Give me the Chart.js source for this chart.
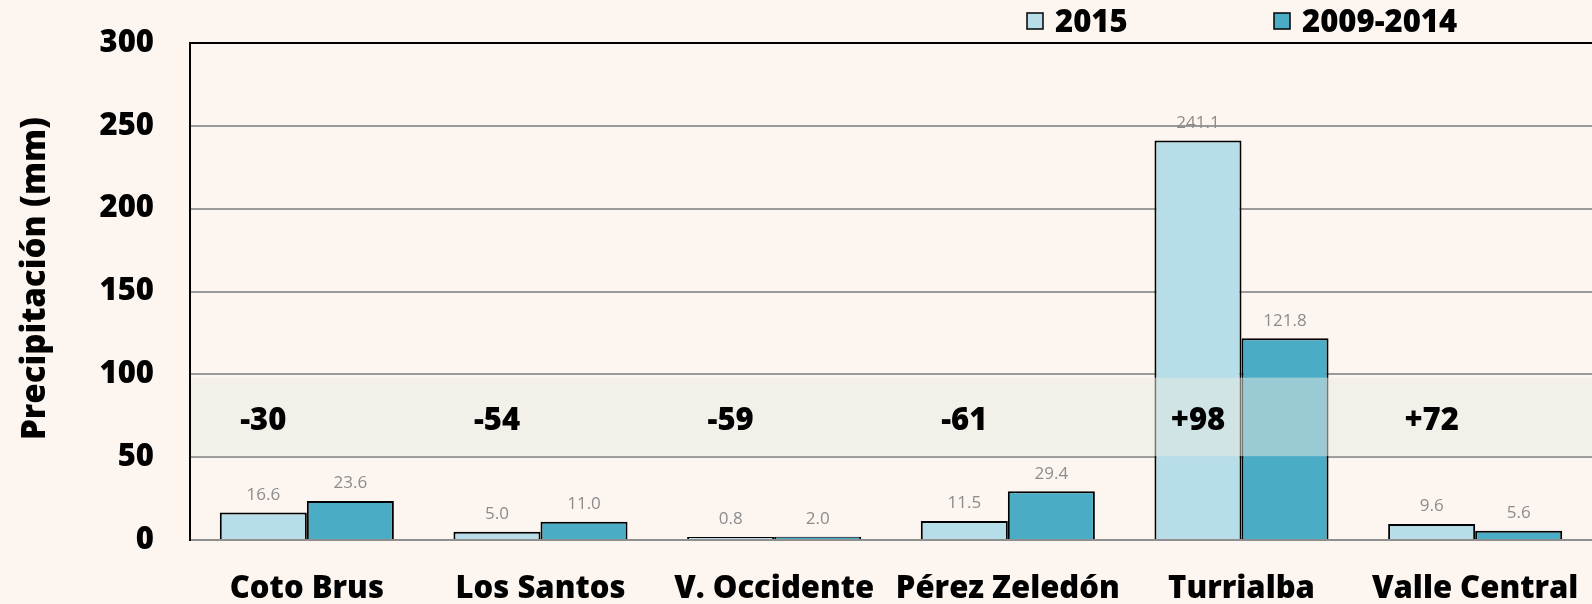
<!DOCTYPE html>
<html>
<head>
<meta charset="utf-8">
<script src="https://cdn.jsdelivr.net/npm/chart.js@4.4.0/dist/chart.umd.min.js"></script>
<style>
  html, body { margin: 0; padding: 0; background: #FDF5F0; }
  #wrap { width: 1592px; height: 604px; }
</style>
</head>
<body>
<div id="wrap"><canvas id="myChart" width="1592" height="604"></canvas></div>
<script>
let regiones = ['Coto Brus', 'Los Santos', 'V. Occidente', 'Pérez Zeledón', 'Turrialba', 'Valle Central'];
let lluvia2015 = [16.6, 5.0, 0.8, 11.5, 241.1, 9.6];
let lluviaPromedio = [23.6, 11.0, 2.0, 29.4, 121.8, 5.6];
let diferencias = ['-30', '-54', '-59', '-61', '+98', '+72'];
let yTicks = [0, 50, 100, 150, 200, 250, 300];
let banda = [50, 98];
let nivelDiferencias = 72;

const FONT = "'Open Sans', 'DejaVu Sans', sans-serif";

// franja con las diferencias (%) encima de las barras
const bandPlugin = {
    id: 'banda',
    afterDatasetsDraw(chart) {
        const { ctx, chartArea, scales } = chart;
        const y1 = scales.y.getPixelForValue(banda[1]);
        const y0 = scales.y.getPixelForValue(banda[0]);
        ctx.save();
        ctx.fillStyle = 'rgba(234, 234, 226, 0.5)';
        ctx.fillRect(chartArea.left + 1, y1, chartArea.right - chartArea.left, y0 - y1 - 1);

        // etiquetas de valores
        ctx.font = '17px ' + FONT;
        ctx.fillStyle = '#8c8c8c';
        ctx.textAlign = 'center';
        ctx.textBaseline = 'bottom';
        chart.data.datasets.forEach((ds, i) => {
            chart.getDatasetMeta(i).data.forEach((bar, j) => {
                ctx.fillText(ds.data[j].toFixed(1), bar.x, bar.y - 9);
            });
        });

        ctx.font = '800 31px ' + FONT;
        ctx.fillStyle = '#000';
        ctx.textBaseline = 'middle';
        const meta = chart.getDatasetMeta(0);
        const yMid = scales.y.getPixelForValue(nivelDiferencias);
        diferencias.forEach((d, j) => {
            ctx.fillText(d, meta.data[j].x, yMid);
        });
        ctx.restore();
    }
};

const legendPlugin = {
    id: 'leyenda',
    afterDraw(chart) {
        const { ctx } = chart;
        const items = [
            { x: 1027, text: '2015', color: chart.data.datasets[0].backgroundColor },
            { x: 1274, text: '2009-2014', color: chart.data.datasets[1].backgroundColor }
        ];
        ctx.save();
        ctx.font = '800 31px ' + FONT;
        ctx.textBaseline = 'middle';
        ctx.textAlign = 'left';
        items.forEach(it => {
            ctx.fillStyle = it.color;
            ctx.fillRect(it.x, 13, 16, 16);
            ctx.strokeStyle = '#000';
            ctx.lineWidth = 1.5;
            ctx.strokeRect(it.x, 13, 16, 16);
            ctx.fillStyle = '#000';
            ctx.fillText(it.text, it.x + 28, 23);
        });
        ctx.restore();
    }
};

let ctx = document.getElementById('myChart');
let myChart = new Chart(ctx, {
    type: 'bar',
    data: {
        labels: regiones,
        datasets: [{
            label: '2015',
            data: lluvia2015,
            backgroundColor: '#B7DEE8',
            borderColor: '#000',
            borderWidth: 2,
            minBarLength: 3,
            barPercentage: 1,
            categoryPercentage: 0.745
        }, {
            label: '2009-2014',
            data: lluviaPromedio,
            backgroundColor: '#4BACC6',
            borderColor: '#000',
            borderWidth: 2,
            minBarLength: 3,
            barPercentage: 1,
            categoryPercentage: 0.745
        }]
    },
    options: {
        responsive: false,
        animation: false,
        layout: { padding: { top: 43, right: -5, left: 0, bottom: 0 } },
        plugins: {
            legend: { display: false },
            tooltip: { enabled: false }
        },
        scales: {
            x: {
                grid: { display: false, drawTicks: false },
                border: { color: '#8f8f8f', width: 2 },
                ticks: {
                    color: '#000',
                    padding: 34,
                    font: { family: FONT, size: 31, weight: 800, lineHeight: 1 }
                },
                afterFit: (scale) => {
                    scale.height = 64;
                    scale.paddingLeft = 0;
                    scale.paddingRight = 0;
                }
            },
            y: {
                min: 0,
                max: 300,
                afterBuildTicks: (scale) => { scale.ticks = yTicks.map(v => ({ value: v })); },
                grid: {
                    drawTicks: false,
                    lineWidth: 2,
                    color: (c) => c.tick && c.tick.value === 300 ? '#000' : '#9a9a9a'
                },
                border: { color: '#000', width: 2 },
                ticks: {
                    color: '#000',
                    padding: 36,
                    font: { family: FONT, size: 31, weight: 800 }
                },
                title: {
                    display: true,
                    text: '\u00A0\u00A0\u00A0Precipitación (mm)',
                    color: '#000',
                    padding: { top: 16, bottom: 0 },
                    font: { family: FONT, size: 33, weight: 800 }
                },
                afterFit: (scale) => {
                    scale.width = 190;
                    scale.paddingTop = 0;
                    scale.paddingBottom = 0;
                }
            }
        }
    },
    plugins: [bandPlugin, legendPlugin]
});
</script>
</body>
</html>
